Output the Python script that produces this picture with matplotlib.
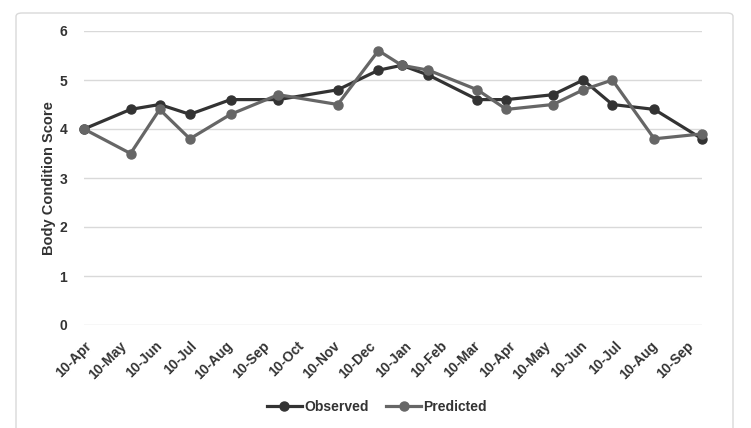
import numpy as np
import pandas as pd
import matplotlib
matplotlib.use("Agg")
import matplotlib.pyplot as plt
import matplotlib.dates as mdates
from matplotlib.patches import FancyBboxPatch

plt.rcParams['font.family'] = ['Liberation Sans', 'DejaVu Sans']

# Sampling dates and scores
sample_dates = ['2022-04-10', '2022-05-20', '2022-06-14', '2022-07-10', '2022-08-14',
                '2022-09-24', '2022-11-14', '2022-12-19', '2023-01-08', '2023-01-31',
                '2023-03-14', '2023-04-08', '2023-05-18', '2023-06-13', '2023-07-08',
                '2023-08-13', '2023-09-23']
observed = [4.0, 4.4, 4.5, 4.3, 4.6, 4.6, 4.8, 5.2, 5.3, 5.1, 4.6, 4.6, 4.7, 5.0, 4.5, 4.4, 3.8]
predicted = [4.0, 3.5, 4.4, 3.8, 4.3, 4.7, 4.5, 5.6, 5.3, 5.2, 4.8, 4.4, 4.5, 4.8, 5.0, 3.8, 3.9]

dates = pd.to_datetime(sample_dates)

W, H = 751, 428
fig = plt.figure(figsize=(W / 100, H / 100), dpi=100)

# chart area border
border = FancyBboxPatch((16 / W, -0.05), (733 - 16) / W, 1.05 - 13 / H,
                        boxstyle="round,pad=0,rounding_size=0.008",
                        transform=fig.transFigure, fill=False,
                        edgecolor='#d9d9d9', linewidth=1.0)
fig.patches.append(border)

ax = fig.add_axes([84 / W, (H - 325) / H, (702 - 84) / W, (325 - 31) / H])

ax.plot(dates, observed, '-o', color='#333333', lw=2.3, markersize=6.5,
        label='Observed', clip_on=False, zorder=3)
ax.plot(dates, predicted, '-o', color='#666666', lw=2.3, markersize=6.5,
        label='Predicted', clip_on=False, zorder=4)

ax.set_xlim(dates[0], dates[-1])
ax.set_ylim(0, 6)
ax.set_yticks(np.arange(0, 7, 1))

# monthly ticks on the 10th, starting at the first sample
ticks = pd.date_range('2022-04-10', '2023-09-10', freq=pd.DateOffset(months=1))
ax.set_xticks(ticks)
ax.xaxis.set_major_formatter(mdates.DateFormatter('%d-%b'))
for lbl in ax.get_xticklabels():
    lbl.set_rotation(45)
    lbl.set_ha('right')
    lbl.set_rotation_mode('anchor')
    lbl.set_fontweight('bold')
    lbl.set_fontsize(10)
    lbl.set_color('#333333')
for lbl in ax.get_yticklabels():
    lbl.set_fontweight('bold')
    lbl.set_fontsize(10)
    lbl.set_color('#333333')

ax.tick_params(axis='both', length=0)
ax.tick_params(axis='y', pad=12)
ax.tick_params(axis='x', pad=10)
ax.grid(axis='y', color='#d9d9d9', lw=1.0)
ax.set_axisbelow(True)
for s in ax.spines.values():
    s.set_visible(False)

ax.set_ylabel('Body Condition Score', fontsize=10.5, fontweight='bold', color='#333333')
ax.yaxis.set_label_coords((56 - 84) / (702 - 84), 0.5)

leg = fig.legend(loc='center', bbox_to_anchor=(377 / W, 1 - 407 / H), ncol=2,
                 frameon=False, handlelength=2.5, handletextpad=0.15,
                 columnspacing=1.3, prop={'weight': 'bold', 'size': 10})
for t in leg.get_texts():
    t.set_color('#333333')

fig.savefig('out.png', dpi=100)
